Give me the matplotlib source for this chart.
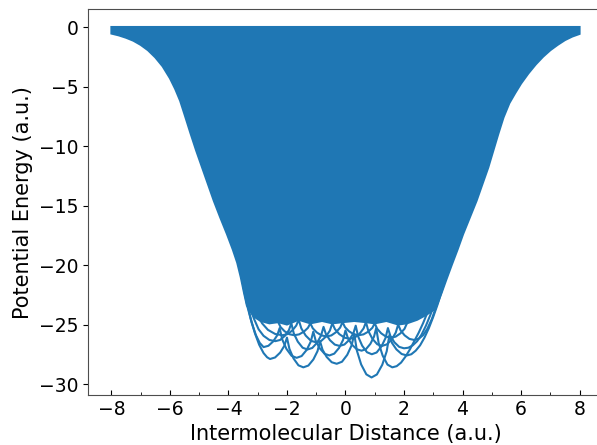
import matplotlib
matplotlib.use("Agg")
import matplotlib.pyplot as plt
from matplotlib.ticker import AutoMinorLocator

# outline of the dense bundle of curves
band_left = [(-8.0, 0.0), (-8.0, -0.55), (-7.75, -0.7), (-7.5, -0.9), (-7.25, -1.15),
             (-7.0, -1.5), (-6.75, -1.95), (-6.5, -2.55), (-6.25, -3.3), (-6.0, -4.3),
             (-5.82, -5.2), (-5.65, -6.2), (-5.48, -7.5), (-5.3, -8.9), (-5.1, -10.4),
             (-4.9, -11.8), (-4.7, -13.2), (-4.5, -14.6), (-4.28, -16.0), (-4.05, -17.4),
             (-3.85, -18.7), (-3.7, -19.8), (-3.58, -21.0), (-3.47, -22.3), (-3.37, -23.4)]
band_bottom = [(-3.15, -24.3), (-2.9, -24.7), (-2.6, -24.9), (-2.3, -24.8), (-2.0, -25.0),
               (-1.6, -24.6), (-1.2, -24.9), (-0.8, -24.7), (-0.45, -24.9), (-0.1, -24.8),
               (0.3, -24.7), (0.7, -24.8), (1.0, -24.9), (1.4, -24.7), (1.8, -25.0),
               (2.1, -24.9), (2.45, -24.6), (2.75, -24.2), (3.0, -23.8)]
band_right = [(3.15, -23.2), (3.29, -22.3), (3.45, -21.2), (3.63, -20.0), (3.83, -18.7),
              (4.02, -17.4), (4.25, -16.0), (4.48, -14.6), (4.68, -13.2), (4.88, -11.8),
              (5.05, -10.4), (5.22, -9.0), (5.4, -7.6), (5.6, -6.4), (5.8, -5.55),
              (6.0, -4.75), (6.25, -3.9), (6.5, -3.15), (6.75, -2.5), (7.0, -1.95),
              (7.25, -1.5), (7.5, -1.1), (7.75, -0.8), (8.0, -0.58), (8.0, 0.0)]

# separate curves hanging below the bundle
curve_a = [(-3.75, -18.5), (-3.6, -20.2), (-3.48, -21.8), (-3.36, -23.2), (-3.24, -24.5),
           (-3.1, -25.7), (-2.95, -26.7), (-2.8, -27.4), (-2.68, -27.75), (-2.58, -27.9),
           (-2.406, -27.77), (-2.232, -27.36), (-2.087, -26.78), (-2.0, -26.1),
           (-1.916, -27.05), (-1.776, -27.85), (-1.608, -28.43), (-1.44, -28.6),
           (-1.269, -28.45), (-1.098, -27.94), (-0.956, -27.24), (-0.87, -26.4),
           (-0.785, -27.12), (-0.642, -27.73), (-0.471, -28.17), (-0.3, -28.3),
           (-0.12, -28.13), (0.06, -27.55), (0.21, -26.75), (0.3, -25.8),
           (0.389, -27.19), (0.536, -28.36), (0.713, -29.19), (0.89, -29.45),
           (1.073, -29.2), (1.256, -28.39), (1.409, -27.25), (1.5, -25.9),
           (1.59, -26.55), (1.74, -27.09), (1.92, -27.48), (2.1, -27.6),
           (2.25, -27.5), (2.4, -27.2), (2.55, -26.75), (2.7, -26.1), (2.85, -25.3),
           (3.0, -24.35), (3.15, -23.3), (3.3, -22.1), (3.45, -20.9), (3.6, -19.6)]
curve_b = [(-3.7, -19.0), (-3.58, -20.6), (-3.46, -22.2), (-3.34, -23.6), (-3.2, -24.9),
           (-3.06, -25.9), (-2.93, -26.55), (-2.8, -26.9),
           (-2.635, -26.79), (-2.47, -26.42), (-2.333, -25.91), (-2.25, -25.3),
           (-2.163, -26.25), (-2.018, -27.05), (-1.844, -27.63), (-1.67, -27.8),
           (-1.499, -27.65), (-1.328, -27.14), (-1.186, -26.44), (-1.1, -25.6),
           (-1.018, -26.36), (-0.88, -27.0), (-0.715, -27.46), (-0.55, -27.6),
           (-0.385, -27.45), (-0.22, -26.97), (-0.083, -26.3), (0.0, -25.5),
           (0.083, -26.15), (0.22, -26.69), (0.385, -27.08), (0.55, -27.2),
           (0.7, -27.07), (0.85, -26.63), (0.975, -26.02), (1.05, -25.3),
           (1.133, -26.55), (1.27, -27.61), (1.435, -28.37), (1.6, -28.6),
           (1.75, -28.5), (1.9, -28.2), (2.05, -27.7), (2.2, -27.1), (2.35, -26.4),
           (2.5, -25.7), (2.65, -24.9), (2.8, -24.0), (2.95, -23.0), (3.1, -21.9),
           (3.25, -20.7), (3.4, -19.4)]
curve_c = [(-3.55, -20.0), (-3.42, -21.8), (-3.28, -23.3), (-3.13, -24.5), (-2.97, -25.4),
           (-2.8, -25.95), (-2.6, -26.3), (-2.4, -26.4),
           (-2.235, -26.3), (-2.07, -25.95), (-1.933, -25.47), (-1.85, -24.9),
           (-1.768, -25.74), (-1.63, -26.44), (-1.465, -26.95), (-1.3, -27.1),
           (-1.135, -26.97), (-0.97, -26.53), (-0.833, -25.92), (-0.75, -25.2),
           (-0.668, -25.81), (-0.53, -26.32), (-0.365, -26.69), (-0.2, -26.8),
           (-0.035, -26.68), (0.13, -26.29), (0.268, -25.75), (0.35, -25.1),
           (0.433, -26.01), (0.57, -26.78), (0.735, -27.33), (0.9, -27.5),
           (1.065, -27.35), (1.23, -26.84), (1.368, -26.14), (1.45, -25.3),
           (1.533, -25.95), (1.67, -26.49), (1.835, -26.88), (2.0, -27.0),
           (2.15, -26.95), (2.3, -26.75), (2.45, -26.4), (2.6, -25.85), (2.75, -25.1),
           (2.9, -24.2), (3.05, -23.2), (3.2, -22.0), (3.35, -20.7)]
curve_d = [(-3.5, -20.0), (-3.35, -21.7), (-3.2, -23.0), (-3.03, -24.1), (-2.85, -24.9),
           (-2.65, -25.45), (-2.4, -25.8), (-2.15, -25.9),
           (-1.985, -25.81), (-1.82, -25.51), (-1.683, -25.09), (-1.6, -24.6),
           (-1.51, -25.32), (-1.36, -25.93), (-1.18, -26.37), (-1.0, -26.5),
           (-0.835, -26.39), (-0.67, -26.02), (-0.533, -25.51), (-0.45, -24.9),
           (-0.36, -25.39), (-0.21, -25.81), (-0.03, -26.11), (0.15, -26.2),
           (0.315, -26.1), (0.48, -25.78), (0.618, -25.33), (0.7, -24.8),
           (0.783, -25.56), (0.92, -26.2), (1.085, -26.66), (1.25, -26.8),
           (1.415, -26.67), (1.58, -26.26), (1.718, -25.68), (1.8, -25.0),
           (1.883, -25.49), (2.02, -25.91), (2.185, -26.21), (2.35, -26.3),
           (2.5, -26.2), (2.65, -25.9), (2.8, -25.35), (2.95, -24.55), (3.1, -23.5),
           (3.25, -22.3), (3.4, -21.0)]
curve_e = [(-2.3, -24.8), (-2.218, -25.22), (-2.08, -25.57), (-1.915, -25.82), (-1.75, -25.9),
           (-1.585, -25.83), (-1.42, -25.6), (-1.283, -25.28), (-1.2, -24.9),
           (-1.118, -25.32), (-0.98, -25.67), (-0.815, -25.92), (-0.65, -26.0),
           (-0.485, -25.92), (-0.32, -25.64), (-0.183, -25.26), (-0.1, -24.8),
           (-0.018, -25.22), (0.12, -25.57), (0.285, -25.82), (0.45, -25.9),
           (0.615, -25.83), (0.78, -25.6), (0.917, -25.28), (1.0, -24.9),
           (1.083, -25.36), (1.22, -25.74), (1.385, -26.02), (1.55, -26.1),
           (1.715, -26.02), (1.88, -25.74), (2.018, -25.36), (2.1, -24.9)]

fig = plt.figure(figsize=(5.97, 4.45), dpi=100)
ax = fig.add_axes([0.1474, 0.1124, 0.8626, 0.8663])

band = band_left + band_bottom + band_right
ax.fill([p[0] for p in band], [p[1] for p in band], color='C0', lw=1.5)

for c in [curve_e, curve_d, curve_c, curve_b, curve_a]:
    ax.plot([p[0] for p in c], [p[1] for p in c], color='C0', lw=1.5)

ax.set_xlabel("Intermolecular Distance (a.u.)", fontsize=15)
ax.set_ylabel("Potential Energy (a.u.)", fontsize=15)
ax.xaxis.set_minor_locator(AutoMinorLocator(2))
ax.tick_params(axis='x', which='both', direction='in', labelsize=13.5)
ax.tick_params(axis='y', labelsize=13.5)
for s in ax.spines.values():
    s.set_color('0.3')

fig.savefig("out.png", dpi=100)
